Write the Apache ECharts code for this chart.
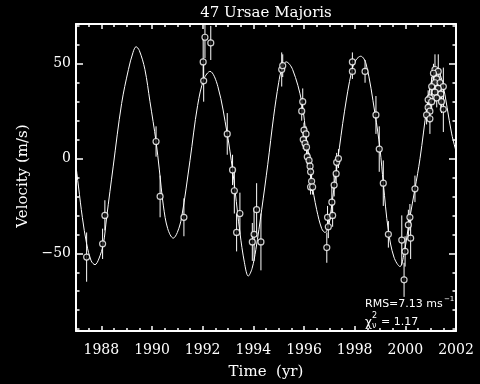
<!DOCTYPE html>
<html><head><meta charset="utf-8">
<script src="https://cdn.jsdelivr.net/npm/echarts@6/dist/echarts.min.js"></script>
<style>html,body{margin:0;padding:0;background:#000;}#c{width:480px;height:384px;}</style>
</head><body><div id="c"></div>
<script>
// Fitted orbit curve
var curveT = [1987.00,1987.10,1987.25,1987.42,1987.60,1987.75,1987.90,1988.08,1988.21,1988.47,1988.80,1989.07,1989.25,1989.37,1989.50,1989.72,1989.92,1990.16,1990.29,1990.45,1990.62,1990.84,1991.00,1991.17,1991.50,1991.80,1992.05,1992.29,1992.60,1992.97,1993.18,1993.28,1993.47,1993.65,1993.80,1993.95,1994.10,1994.33,1994.57,1994.80,1995.00,1995.12,1995.30,1995.55,1995.91,1996.10,1996.24,1996.30,1996.50,1996.70,1996.83,1996.98,1997.10,1997.33,1997.60,1997.88,1998.05,1998.24,1998.45,1998.80,1999.00,1999.13,1999.33,1999.55,1999.79,1999.95,2000.18,2000.38,2000.58,2000.85,2001.05,2001.24,2001.45,2001.83,2002.00];
var curveV = [-4,-15,-31,-45,-54,-56,-53,-45,-31,-4,29,47,56,59,57,47,30,9,-6,-25,-37,-42,-39,-31,-1,28,42,46,38,13,-6,-17,-39,-55,-62,-58,-48,-27,-3,22,40,47,51,47,30,10,-3,-12,-27,-37,-39,-35,-24,-1,25,46,52,54,50,24,5,-13,-38,-52,-57,-50,-31,-16,0,27,42,47,41,13,4];

// Observations: time, velocity, error
var obsT = [1987.42,1988.05,1988.14,1990.16,1990.32,1991.26,1992.09,1992.32,1992.02,1992.04,1992.97,1993.18,1993.25,1993.34,1993.47,1993.96,1994.03,1994.13,1994.30,1995.12,1995.16,1995.95,1995.91,1996.00,1996.08,1995.97,1996.04,1996.10,1996.13,1996.20,1996.24,1996.26,1996.30,1996.26,1996.34,1996.90,1996.93,1996.96,1997.10,1997.13,1997.19,1997.27,1997.29,1997.36,1997.91,1997.91,1998.41,1998.84,1998.97,1999.13,1999.33,1999.86,1999.99,1999.95,2000.12,2000.18,2000.21,2000.38,2001.17,2001.30,2001.11,2001.24,2001.17,2001.37,2001.50,2001.04,2001.30,2001.17,2001.40,2000.97,2001.24,2000.90,2001.43,2001.04,2001.50,2000.90,2000.97,2000.84,2000.97];
var obsV = [-52,-45,-30,9,-20,-31,64,61,51,41,13,-6,-17,-39,-29,-44,-40,-27,-44,47,49,30,25,15,13,10,8,6,1,-1,-4,-7,-12,-15,-15,-47,-31,-36,-23,-30,-14,-8,-2,0,51,46,46,23,5,-13,-40,-43,-49,-64,-35,-31,-42,-16,47,46,45,42,40,40,38,38,37,35,34,32,32,31,30,30,26,27,25,23,21];
var obsE = [13,8,8,8,11,10,11,9,12,11,11,8,12,10,11,10,14,14,15,9,6,7,5,4,4,5,4,4,4,4,4,4,5,4,4,8,6,6,8,6,6,5,5,5,5,4,6,10,12,12,7,13,8,9,8,7,11,7,8,9,5,5,6,7,10,5,6,5,8,6,5,5,6,5,12,5,6,5,8];

// Axis ticks
var xMajor = [1988,1990,1992,1994,1996,1998,2000,2002];
var xMinor = [1987,1987.5,1988.5,1989,1989.5,1990.5,1991,1991.5,1992.5,1993,1993.5,1994.5,1995,1995.5,1996.5,1997,1997.5,1998.5,1999,1999.5,2000.5,2001,2001.5];
var yMajor = [-50,0,50];
var yMinor = [-90,-80,-70,-60,-40,-30,-20,-10,10,20,30,40,60,70];

var FONT = 'DejaVu Serif';
var chart = echarts.init(document.getElementById('c'), null, {renderer:'canvas'});

function xAx(pos, ticks, len, labels, line){
  return {type:'value', min:1987, max:2002, position:pos, gridIndex:0,
    axisLine:{show:line, onZero:false, lineStyle:{color:'#fff', width:2}},
    axisTick:{show:true, inside:true, length:len, customValues:ticks, lineStyle:{color:'#fff', width:1.5}},
    axisLabel:{show:labels, customValues:ticks, color:'#fff', fontFamily:FONT, fontSize:14, margin:12,
      formatter:function(v){return String(v);}},
    splitLine:{show:false}};
}
function yAx(pos, ticks, len, labels, line){
  return {type:'value', min:-91, max:71, position:pos, gridIndex:0,
    axisLine:{show:line, onZero:false, lineStyle:{color:'#fff', width:2}},
    axisTick:{show:true, inside:true, length:len, customValues:ticks, lineStyle:{color:'#fff', width:1.5}},
    axisLabel:{show:labels, customValues:ticks, color:'#fff', fontFamily:FONT, fontSize:14, margin:5,
      formatter:function(v){return v<0 ? '\u2212'+(-v) : ''+v;}},
    splitLine:{show:false}};
}

var errData = obsT.map(function(t,i){return [t, obsV[i], obsE[i]];});
var ptData = obsT.map(function(t,i){return [t, obsV[i]];});
var lineData = curveT.map(function(t,i){return [t, curveV[i]];});

var small = '8px "DejaVu Sans"';
chart.setOption({
  backgroundColor:'#000',
  animation:false,
  grid:{left:76, right:24, top:24, bottom:53},
  xAxis:[xAx('bottom', xMajor, 5, true, true), xAx('bottom', xMinor, 3, false, false),
         xAx('top', xMajor, 5, false, true), xAx('top', xMinor, 3, false, false)],
  yAxis:[yAx('left', yMajor, 7, true, true), yAx('left', yMinor, 3.5, false, false),
         yAx('right', yMajor, 7, false, true), yAx('right', yMinor, 3.5, false, false)],
  graphic:[
    {type:'text', x:266, y:13, style:{text:'47 Ursae Majoris', fill:'#fff', font:'15px "DejaVu Serif"', align:'center', verticalAlign:'middle'}},
    {type:'text', x:266, y:372, style:{text:'Time  (yr)', fill:'#fff', font:'15px "DejaVu Serif"', align:'center', verticalAlign:'middle'}},
    {type:'text', x:23, y:176, rotation:Math.PI/2, style:{text:'Velocity (m/s)', fill:'#fff', font:'15px "DejaVu Serif"', align:'center', verticalAlign:'middle'}},
    {type:'text', x:365, y:304, style:{text:'RMS=7.13 ms', fill:'#fff', font:'11px "DejaVu Sans"', verticalAlign:'middle'}},
    {type:'text', x:444, y:299, style:{text:'\u22121', fill:'#fff', font:'7px "DejaVu Sans"', verticalAlign:'middle'}},
    {type:'text', x:365, y:323, style:{text:'\u03c7', fill:'#fff', font:'12px "DejaVu Sans"', verticalAlign:'middle'}},
    {type:'text', x:372, y:316, style:{text:'2', fill:'#fff', font:small, verticalAlign:'middle'}},
    {type:'text', x:372, y:326, style:{text:'\u03bd', fill:'#fff', font:small, verticalAlign:'middle'}},
    {type:'text', x:381, y:322, style:{text:'= 1.17', fill:'#fff', font:'11px "DejaVu Sans"', verticalAlign:'middle'}}
  ],
  series:[
    {type:'line', xAxisIndex:0, yAxisIndex:0, data:lineData, smooth:0.35, showSymbol:false, clip:true,
      lineStyle:{color:'#fff', width:1}, z:2},
    {type:'custom', xAxisIndex:0, yAxisIndex:0, data:errData, clip:true, z:3,
      encode:{x:0, y:1},
      renderItem:function(params, api){
        var t=api.value(0), v=api.value(1), e=api.value(2);
        var p1=api.coord([t, v+e]), p2=api.coord([t, v-e]);
        return {type:'line', shape:{x1:p1[0], y1:p1[1], x2:p2[0], y2:p2[1]}, style:{stroke:'#fff', lineWidth:1}};
      }},
    {type:'scatter', xAxisIndex:0, yAxisIndex:0, data:ptData, symbol:'circle', symbolSize:6, z:4,
      itemStyle:{color:'#000', borderColor:'#fff', borderWidth:1.2}}
  ]
});
</script></body></html>
